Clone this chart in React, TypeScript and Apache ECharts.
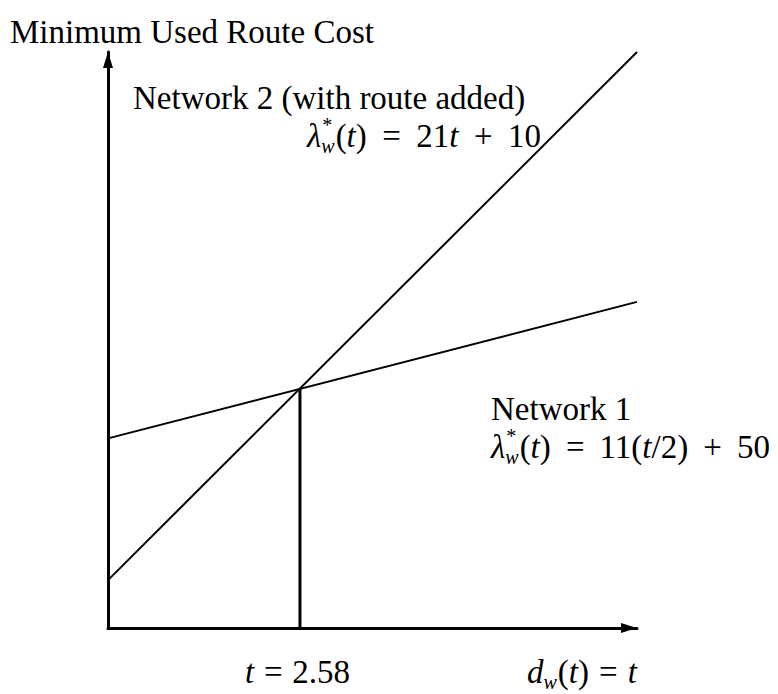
import React, { useEffect, useRef } from 'react';
import * as echarts from 'echarts';

// ---- data ----
const tMin = 0;
const tMax = 7.11;
const costMin = -3.5;
const costMax = 159;
const network1T = [0, 7.11];
const network1Cost = [50, 88.5];
const network2T = [0, 7.11];
const network2Cost = [10, 159];
const crossT = [2.58, 2.58];
const crossCost = [64.1, -3.5];

const yAxisTitle = 'Minimum Used Route Cost';
const network2Title = 'Network 2 (with route added)';
const network1Title = 'Network 1';

type Part = { t?: string; it?: boolean; sup?: string; sub?: string; gap?: number };

const network2Formula: Part[] = [
  { t: 'λ', it: true }, { sup: '*', sub: 'w' }, { t: '(' }, { t: 't', it: true }, { t: ')' },
  { gap: 1 }, { t: '=' }, { gap: 1 }, { t: '21' }, { t: 't', it: true },
  { gap: 1 }, { t: '+' }, { gap: 1 }, { t: '10' },
];
const network1Formula: Part[] = [
  { t: 'λ', it: true }, { sup: '*', sub: 'w' }, { t: '(' }, { t: 't', it: true }, { t: ')' },
  { gap: 1 }, { t: '=' }, { gap: 1 }, { t: '11(' }, { t: 't', it: true }, { t: '/2)' },
  { gap: 1 }, { t: '+' }, { gap: 1 }, { t: '50' },
];
const crossLabel: Part[] = [
  { t: 't', it: true }, { gap: 1 }, { t: '=' }, { gap: 1 }, { t: '2.58' },
];
const xAxisLabel: Part[] = [
  { t: 'd', it: true }, { sub: 'w' }, { t: '(' }, { t: 't', it: true }, { t: ')' },
  { gap: 1 }, { t: '=' }, { gap: 1 }, { t: 't', it: true },
];

const FONT = 'Liberation Serif';
const F = 33;
const S = 20;

export default function App() {
  const ref = useRef<HTMLDivElement>(null);
  useEffect(() => {
    if (!ref.current) return;
    const chart = echarts.init(ref.current, undefined, { renderer: 'svg' });
    const ctx = document.createElement('canvas').getContext('2d')!;
    const mw = (s: string, size: number, it?: boolean) => {
      ctx.font = `${it ? 'italic ' : ''}${size}px ${FONT}`;
      return ctx.measureText(s).width;
    };
    const txt = (x: number, y: number, s: string, size: number, it?: boolean) => ({
      type: 'text',
      x,
      y,
      silent: true,
      style: {
        text: s,
        fontSize: size,
        fontFamily: FONT,
        fontStyle: it ? 'italic' : 'normal',
        fill: '#000',
        lineHeight: size,
        textAlign: 'left',
        verticalAlign: 'middle',
      },
    });
    const partWidth = (p: Part) => {
      if (p.sup !== undefined || p.sub !== undefined) {
        const a = p.sup ? mw(p.sup, S, false) + 1 : 0;
        const b = p.sub ? mw(p.sub, S, true) : 0;
        return Math.max(a, b) + 1;
      }
      return mw(p.t || '', F, p.it);
    };
    const math = (x0: number, y: number, parts: Part[], xRight: number) => {
      let fixed = 0;
      let gapSum = 0;
      parts.forEach((p) => {
        if (p.gap) gapSum += p.gap;
        else fixed += partWidth(p);
      });
      const unit = gapSum > 0 ? Math.max(0, xRight - x0 - fixed) / gapSum : 0;
      let x = x0;
      const els: any[] = [];
      parts.forEach((p) => {
        if (p.gap) {
          x += p.gap * unit;
          return;
        }
        if (p.sup !== undefined || p.sub !== undefined) {
          if (p.sup) els.push(txt(x + 1, y - 11, p.sup, S, false));
          if (p.sub) els.push(txt(x, y + 10, p.sub, S, true));
          x += partWidth(p);
          return;
        }
        els.push(txt(x, y, p.t || '', F, p.it));
        x += partWidth(p);
      });
      return els;
    };

    const graphic: any[] = [
      txt(10, 32, yAxisTitle, F),
      txt(133, 98, network2Title, F),
      ...math(307, 136, network2Formula, 541),
      txt(491, 409, network1Title, F),
      ...math(491, 447, network1Formula, 770),
      ...math(245, 672, crossLabel, 350),
      ...math(527, 672, xAxisLabel, 637),
    ];

    const axisCommon = {
      type: 'value',
      axisLine: {
        show: true,
        onZero: false,
        lineStyle: { color: '#000', width: 3 },
        symbol: ['none', 'triangle'],
        symbolSize: [10, 16],
        symbolOffset: [0, -8],
      },
      axisTick: { show: false },
      axisLabel: { show: false },
      splitLine: { show: false },
    };

    chart.setOption({
      animation: false,
      backgroundColor: '#fff',
      grid: { left: 108, top: 52, width: 529, height: 576, outerBoundsMode: 'none', containLabel: false },
      xAxis: { ...axisCommon, min: tMin, max: tMax },
      yAxis: { ...axisCommon, min: costMin, max: costMax },
      series: [
        {
          type: 'line',
          name: 'Network 1',
          data: network1T.map((t, i) => [t, network1Cost[i]]),
          symbol: 'none',
          lineStyle: { color: '#000', width: 2 },
          silent: true,
        },
        {
          type: 'line',
          name: 'Network 2',
          data: network2T.map((t, i) => [t, network2Cost[i]]),
          symbol: 'none',
          lineStyle: { color: '#000', width: 2 },
          silent: true,
        },
        {
          type: 'line',
          name: 'Crossing',
          data: crossT.map((t, i) => [t, crossCost[i]]),
          symbol: 'none',
          lineStyle: { color: '#000', width: 3 },
          silent: true,
        },
      ],
      graphic,
    });
    return () => chart.dispose();
  }, []);
  return (
    <div
      ref={ref}
      style={{ position: 'fixed', left: 0, top: 0, width: 778, height: 694, background: '#fff' }}
    />
  );
}
